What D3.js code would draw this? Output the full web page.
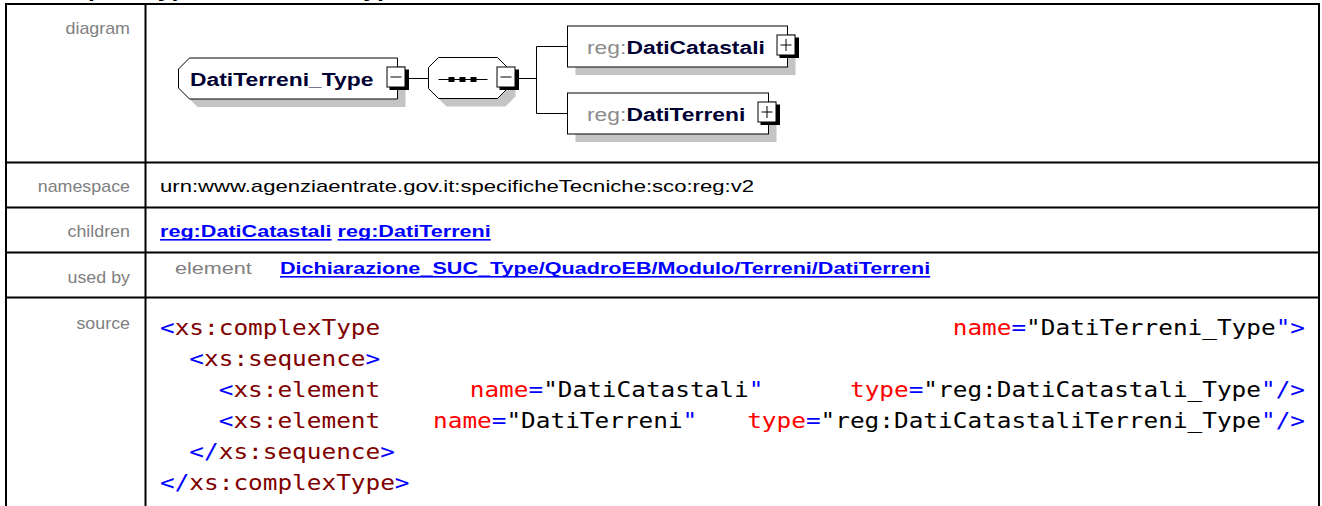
<!DOCTYPE html>
<html><head><meta charset="utf-8">
<script src="https://cdn.jsdelivr.net/npm/d3@7"></script>
<style>html,body{margin:0;padding:0;background:#fff;overflow:hidden}</style>
</head><body>
<script>
// ---------------- data ----------------
const headingText = "Complex Type DatiTerreni_Type";
const rowLabels = ["diagram", "namespace", "children", "used by", "source"];
const rootType = "DatiTerreni_Type";
const childPrefix = "reg:";
const childNames = ["DatiCatastali", "DatiTerreni"];
const namespaceText = "urn:www.agenziaentrate.gov.it:specificheTecniche:sco:reg:v2";
const childLinks = ["reg:DatiCatastali", "reg:DatiTerreni"];
const usedByKind = "element";
const usedByPath = "Dichiarazione_SUC_Type/QuadroEB/Modulo/Terreni/DatiTerreni";
// source tokens: [text, kind, column]
const codeLine1 = [["<","b",0],["xs:complexType","m",1],["name","r",54],["=","b",58],['"',"k",59],["DatiTerreni_Type","k",60],['"',"b",76],[">","b",77]];
const codeLine2 = [["<","b",2],["xs:sequence","m",3],[">","b",14]];
const codeLine3 = [["<","b",4],["xs:element","m",5],["name","r",21.1],["=","b",25.1],['"',"k",26.1],["DatiCatastali","k",27.1],['"',"b",40.1],["type","r",47],["=","b",51],['"',"k",52],["reg:DatiCatastali_Type","k",53],['"',"b",75],["/>","b",76]];
const codeLine4 = [["<","b",4],["xs:element","m",5],["name","r",18.6],["=","b",22.6],['"',"k",23.6],["DatiTerreni","k",24.6],['"',"b",35.6],["type","r",40],["=","b",44],['"',"k",45],["reg:DatiCatastaliTerreni_Type","k",46],['"',"b",75],["/>","b",76]];
const codeLine5 = [["</","b",2],["xs:sequence","m",4],[">","b",15]];
const codeLine6 = [["</","b",0],["xs:complexType","m",2],[">","b",16]];
const codeLines = [codeLine1, codeLine2, codeLine3, codeLine4, codeLine5, codeLine6];

// ---------------- layout / style ----------------
const W = 1322, H = 506;
const SX = 1.27;                       // horizontal stretch of the content text
const SANS = "'Liberation Sans', Arial, sans-serif";
const MONO = "'DejaVu Sans Mono', 'Liberation Mono', monospace";
const kindColor = {b: "#0000ff", m: "#800000", r: "#ff0000", k: "#000000"};
const rowEdges = [4, 162.5, 207.5, 252.5, 297.5];
const tableL = 6, tableR = 1319, divX = 145.5, labelEnd = 130, cellX = 160;
const labelBase = [34, 192, 237, 283, 329];

const svg = d3.select("body").append("svg").attr("width", W).attr("height", H);

function stretchText(g, x, y, s, size, weight, fill, opt) {
  opt = opt || {};
  const t = g.append("text").attr("x", x).attr("y", y)
    .style("font-family", SANS).style("font-size", size + "px")
    .style("font-weight", weight).attr("fill", fill).text(s);
  const w = opt.width || t.node().getComputedTextLength() * (opt.sx || SX);
  t.attr("textLength", w).attr("lengthAdjust", "spacingAndGlyphs");
  if (opt.end) t.attr("x", x - w);
  return w;
}

// heading fragment (cut off at the top edge, as in the source picture)
stretchText(svg, 33, -2.8, headingText, 19.5, "bold", "#000");

// ---------------- table ----------------
const grid = svg.append("g").attr("stroke", "#000").attr("stroke-width", 2);
rowEdges.forEach(y => grid.append("line").attr("x1", tableL - 1).attr("x2", tableR + 1).attr("y1", y).attr("y2", y));
[tableL, divX, tableR].forEach(x => grid.append("line").attr("x1", x).attr("x2", x).attr("y1", rowEdges[0]).attr("y2", H + 2));

rowLabels.forEach((l, i) => stretchText(svg, labelEnd, labelBase[i], l, 17, "normal", "#808080", {end: true, sx: 1.05}));

// namespace
stretchText(svg, cellX, labelBase[1], namespaceText, 17, "normal", "#000", {width: 594});

// links
function link(x, y, s) {
  const w = stretchText(svg, x, y, s, 17, "bold", "#0000ff");
  svg.append("rect").attr("x", x).attr("y", y + 2).attr("width", w).attr("height", 1.6).attr("fill", "#0000ff");
  return w;
}
let lx = cellX;
childLinks.forEach(s => { lx += link(lx, labelBase[2], s) + 17 * 0.278 * SX; });
stretchText(svg, 175, 274, usedByKind, 17, "normal", "#808080");
link(280, 274, usedByPath);

// source code
const col = d3.scaleLinear().domain([0, 1]).range([cellX, cellX + 14.68]);
const line = d3.scaleLinear().domain([0, 1]).range([335, 366]);
codeLines.forEach((toks, li) => {
  svg.append("g").selectAll("text").data(toks).join("text")
    .attr("x", d => col(d[2])).attr("y", line(li))
    .attr("textLength", d => col(d[0].length) - col(0)).attr("lengthAdjust", "spacingAndGlyphs")
    .style("font-family", MONO).style("font-size", "21px")
    .attr("fill", d => kindColor[d[1]]).text(d => d[0]);
});

// ---------------- diagram ----------------
const dg = svg.append("g");
const SH = 8, SHC = "#c4c4c4";
function pmBox(edge, cy, plus) {
  const g = dg.append("g");
  g.append("rect").attr("x", edge - 8).attr("y", cy - 9).attr("width", 19.5).attr("height", 20.5).attr("fill", "#000");
  g.append("rect").attr("x", edge - 10.5).attr("y", cy - 11.5).attr("width", 18).attr("height", 20).attr("fill", "#fff").attr("stroke", "#000");
  g.append("line").attr("x1", edge - 7).attr("x2", edge + 4).attr("y1", cy - 1.5).attr("y2", cy - 1.5).attr("stroke", "#000");
  if (plus) g.append("line").attr("x1", edge - 1.5).attr("x2", edge - 1.5).attr("y1", cy - 7.5).attr("y2", cy + 4.5).attr("stroke", "#000");
}
function chamferPath(x0, y0, x1, y1, c, both) {
  return both
    ? `M${x0 + c},${y0}L${x1 - c},${y0}L${x1},${y0 + c}L${x1},${y1 - c}L${x1 - c},${y1}L${x0 + c},${y1}L${x0},${y1 - c}L${x0},${y0 + c}Z`
    : `M${x0 + c},${y0}L${x1},${y0}L${x1},${y1}L${x0 + c},${y1}L${x0},${y1 - c}L${x0},${y0 + c}Z`;
}
function measure(s, size, weight) {
  const t = svg.append("text").style("font-family", SANS).style("font-size", size + "px").style("font-weight", weight).text(s);
  const w = t.node().getComputedTextLength() * SX; t.remove(); return w;
}

// root complex type box
const rootCy = 78.5, rootX0 = 178.5, rootTextX = 190;
const rootX1 = Math.round(rootTextX + measure(rootType, 18, "bold") + 24) + 0.5;
dg.append("path").attr("d", chamferPath(rootX0 + SH, rootCy - 20.5 + SH, rootX1 + SH, rootCy + 20.5 + SH, 11, false)).attr("fill", SHC);
dg.append("path").attr("d", chamferPath(rootX0, rootCy - 20.5, rootX1, rootCy + 20.5, 11, false)).attr("fill", "#fff").attr("stroke", "#000");
stretchText(dg, rootTextX, rootCy + 7, rootType, 18, "bold", "#000033");
pmBox(rootX1, rootCy, false);

// sequence compositor
const oX0 = 428.5, oX1 = 507.5;
dg.append("line").attr("x1", rootX1 + 11).attr("x2", oX0).attr("y1", rootCy).attr("y2", rootCy).attr("stroke", "#000");
dg.append("path").attr("d", chamferPath(oX0 + SH, rootCy - 21 + SH, oX1 + SH, rootCy + 20 + SH, 10, true)).attr("fill", SHC);
dg.append("path").attr("d", chamferPath(oX0, rootCy - 21, oX1, rootCy + 20, 10, true)).attr("fill", "#fff").attr("stroke", "#000");
dg.append("line").attr("x1", oX0 + 10).attr("x2", oX0 + 59).attr("y1", rootCy + 1).attr("y2", rootCy + 1).attr("stroke", "#000");
[23, 34, 45].forEach(dx => dg.append("rect").attr("x", oX0 + dx - 3).attr("y", rootCy - 1.5).attr("width", 6).attr("height", 5).attr("fill", "#000"));
pmBox(oX1, rootCy, false);

// children
const trunkX = 536.5, cX0 = 567.5;
const cy = d3.scalePoint().domain(childNames).range([46.5, 113.5]);
dg.append("line").attr("x1", oX1 + 11).attr("x2", trunkX).attr("y1", rootCy).attr("y2", rootCy).attr("stroke", "#000");
dg.append("line").attr("x1", trunkX).attr("x2", trunkX).attr("y1", cy(childNames[0])).attr("y2", cy(childNames[childNames.length - 1])).attr("stroke", "#000");
childNames.forEach(n => {
  const y = cy(n);
  const pw = measure(childPrefix, 18, "normal"), nw = measure(n, 18, "bold");
  const x1 = Math.round(cX0 + 20 + pw + nw + 22) + 0.5;
  dg.append("line").attr("x1", trunkX).attr("x2", cX0).attr("y1", y).attr("y2", y).attr("stroke", "#000");
  dg.append("rect").attr("x", cX0 + SH).attr("y", y - 20.5 + SH).attr("width", x1 - cX0).attr("height", 41).attr("fill", SHC);
  dg.append("rect").attr("x", cX0).attr("y", y - 20.5).attr("width", x1 - cX0).attr("height", 41).attr("fill", "#fff").attr("stroke", "#000");
  stretchText(dg, cX0 + 19.5, y + 7, childPrefix, 18, "normal", "#8c8c8c");
  stretchText(dg, cX0 + 19.5 + pw, y + 7, n, 18, "bold", "#000033");
  pmBox(x1, y, true);
});
</script>
</body></html>
